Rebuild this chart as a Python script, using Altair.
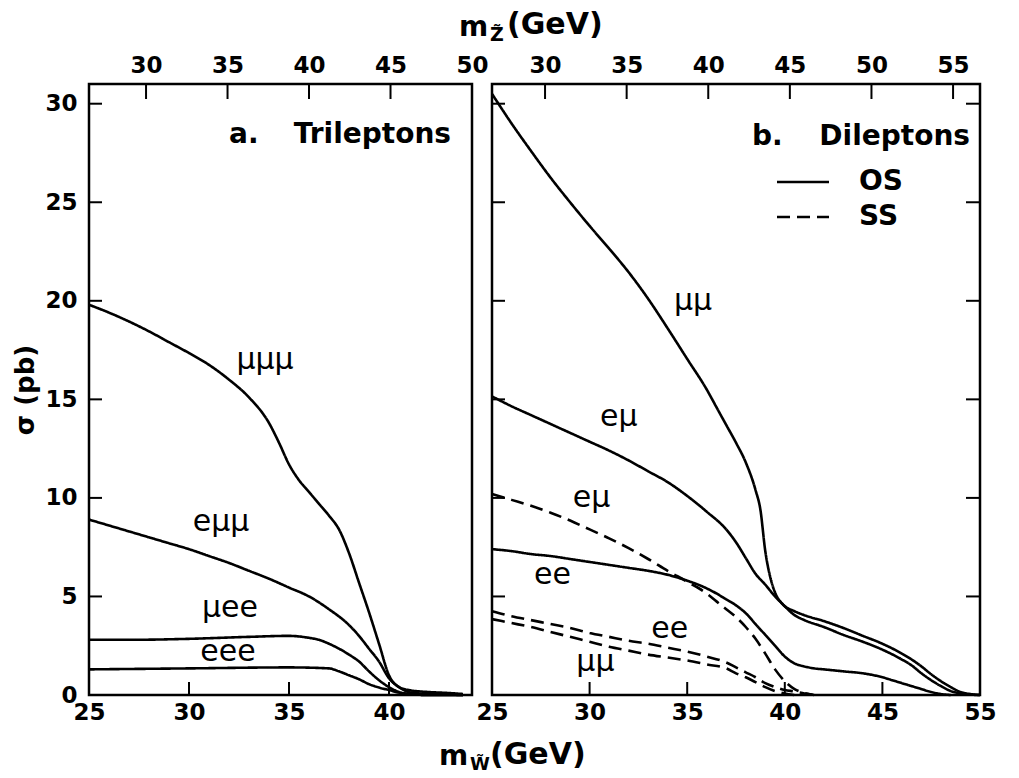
import altair as alt
import pandas as pd

# ---------------- data ----------------
# Panel a: trileptons, sigma (pb) vs m_W~ (GeV)
mmm_x = [25, 26, 27, 28, 29, 30, 31, 32, 33, 34, 34.5, 35, 35.5, 36, 36.5, 37, 37.5, 38, 38.5, 39, 39.5, 40, 40.5, 41, 42, 43, 43.7]
mmm_y = [19.8, 19.4, 18.95, 18.45, 17.9, 17.35, 16.75, 16.0, 15.1, 13.8, 12.8, 11.7, 10.9, 10.3, 9.7, 9.1, 8.4, 7.2, 5.7, 4.2, 2.6, 1.0, 0.4, 0.25, 0.15, 0.1, 0.05]

emm_x = [25, 26, 27, 28, 29, 30, 31, 32, 33, 34, 35, 36, 37, 38, 38.5, 39, 39.5, 40, 40.5, 41, 42, 43, 43.7]
emm_y = [8.9, 8.6, 8.3, 8.0, 7.7, 7.4, 7.05, 6.7, 6.3, 5.9, 5.45, 5.0, 4.35, 3.55, 3.0, 2.35, 1.7, 0.85, 0.4, 0.15, 0.05, 0.02, 0.0]

mee_x = [25, 27, 30, 33, 35, 36, 36.5, 37, 37.5, 38, 38.5, 39, 39.5, 40, 40.5, 41, 42, 43.7]
mee_y = [2.8, 2.8, 2.85, 2.95, 3.0, 2.9, 2.8, 2.6, 2.35, 2.05, 1.7, 1.2, 0.75, 0.4, 0.15, 0.05, 0.0, 0.0]

eee_x = [25, 30, 35, 37, 37.5, 38, 38.5, 39, 39.5, 40, 40.5, 41, 42, 43.7]
eee_y = [1.3, 1.35, 1.4, 1.35, 1.2, 1.0, 0.8, 0.55, 0.38, 0.25, 0.12, 0.05, 0.0, 0.0]

# Panel b: dileptons, opposite sign (OS, solid) and same sign (SS, dashed)
mm_os_x = [25, 26, 27, 28, 29, 30, 31, 32, 33, 34, 35, 36, 36.5, 37, 37.5, 38, 38.5, 38.75, 39, 39.25, 39.5, 39.9, 40.5, 41, 42, 43, 44, 45, 46, 46.5, 47, 47.5, 48, 48.5, 49, 49.5, 50]
mm_os_y = [30.5, 29.0, 27.6, 26.25, 25.0, 23.8, 22.65, 21.45, 20.1, 18.6, 17.05, 15.5, 14.6, 13.7, 12.8, 11.8, 10.4, 9.4, 7.3, 6.0, 5.2, 4.6, 4.25, 4.05, 3.75, 3.4, 3.0, 2.6, 2.1, 1.8, 1.45, 1.05, 0.7, 0.4, 0.15, 0.05, 0.0]

em_os_x = [25, 26, 27, 28, 29, 30, 31, 32, 33, 34, 35, 36, 37, 37.5, 38, 38.5, 39, 39.5, 39.9, 40.5, 41, 42, 43, 44, 45, 46, 46.5, 47, 47.5, 48, 48.5, 49, 49.5, 50]
em_os_y = [15.15, 14.65, 14.2, 13.75, 13.3, 12.85, 12.4, 11.9, 11.35, 10.8, 10.1, 9.3, 8.4, 7.75, 6.95, 6.15, 5.6, 5.0, 4.6, 4.05, 3.8, 3.45, 3.05, 2.7, 2.3, 1.8, 1.5, 1.1, 0.75, 0.45, 0.2, 0.08, 0.02, 0.0]

ee_os_x = [25, 26, 27, 28, 29, 30, 31, 32, 33, 34, 35, 35.8, 36.5, 37, 37.5, 38, 38.5, 39, 39.5, 40, 40.5, 41, 41.5, 42, 43, 44, 45, 45.5, 46, 46.5, 47, 47.5, 48, 48.5]
ee_os_y = [7.4, 7.3, 7.15, 7.05, 6.9, 6.75, 6.6, 6.45, 6.3, 6.1, 5.8, 5.5, 5.15, 4.85, 4.55, 4.15, 3.6, 3.05, 2.5, 1.95, 1.6, 1.45, 1.35, 1.3, 1.2, 1.1, 0.9, 0.75, 0.6, 0.45, 0.3, 0.15, 0.05, 0.0]

em_ss_x = [25, 26, 27, 28, 29, 30, 31, 32, 33, 34, 35, 36, 36.5, 37, 37.5, 38, 38.5, 39, 39.5, 40, 40.5, 41, 41.5]
em_ss_y = [10.2, 9.9, 9.6, 9.25, 8.85, 8.4, 7.95, 7.45, 6.9, 6.3, 5.75, 5.15, 4.75, 4.35, 3.95, 3.45, 2.85, 2.1, 1.3, 0.7, 0.3, 0.1, 0.0]

ee_ss_x = [25, 26, 27, 28, 29, 30, 31, 32, 33, 34, 35, 36, 37, 37.5, 38, 38.5, 39, 39.5, 40, 40.5, 41, 41.5]
ee_ss_y = [4.25, 4.0, 3.8, 3.6, 3.4, 3.15, 2.95, 2.75, 2.6, 2.4, 2.2, 1.95, 1.65, 1.4, 1.15, 0.9, 0.6, 0.4, 0.25, 0.18, 0.08, 0.0]

mm_ss_x = [25, 26, 27, 28, 29, 30, 31, 32, 33, 34, 35, 36, 37, 37.5, 38, 38.5, 39, 39.5, 40, 40.5]
mm_ss_y = [3.85, 3.65, 3.45, 3.2, 2.95, 2.7, 2.45, 2.25, 2.05, 1.9, 1.75, 1.55, 1.35, 1.1, 0.9, 0.65, 0.4, 0.2, 0.08, 0.0]

# curve labels (text, m_W, sigma)
tri_labels = ["μμμ", "eμμ", "μee", "eee"]
tri_label_x = [33.8, 31.6, 32.05, 31.95]
tri_label_y = [17.0, 8.8, 4.4, 2.2]

di_labels = ["μμ", "eμ", "eμ", "ee", "ee", "μμ"]
di_label_x = [35.3, 31.5, 30.1, 28.1, 34.1, 30.3]
di_label_y = [20.0, 14.1, 10.0, 6.1, 3.35, 1.65]

# axes
sigma_ticks = [0, 5, 10, 15, 20, 25, 30]
sigma_inner_ticks = [5, 10, 15, 20, 25, 30]
left_mw_ticks = [25, 30, 35, 40]
left_mw_inner = [30, 35, 40]
right_mw_ticks = [25, 30, 35, 40, 45, 50]
right_mw_inner = [30, 35, 40, 45]
right_mw_labels = ["25", "30", "35", "40", "45", "55"]   # as printed on the original
left_mz_ticks = [30, 35, 40, 45, 50]
right_mz_ticks = [30, 35, 40, 45, 50, 55]

# ---------------- layout / style ----------------
FONT = "DejaVu Sans"
W_L, W_R, H = 383, 488, 611
XL, XR = [25, 44.15], [25, 50]
ZL, ZR = [26.5, 50], [26.75, 56.65]
YD = [0, 31]
LW = 2.6
DASH = [13, 7]


def curves_df(curves):
    rows = []
    for name, style, xs, ys in curves:
        for x, y in zip(xs, ys):
            rows.append({"curve": name, "style": style, "mw": x, "sigma": y})
    return pd.DataFrame(rows)


tri_df = curves_df([
    ("mmm", "OS", mmm_x, mmm_y),
    ("emm", "OS", emm_x, emm_y),
    ("mee", "OS", mee_x, mee_y),
    ("eee", "OS", eee_x, eee_y),
])
di_df = curves_df([
    ("mm_os", "OS", mm_os_x, mm_os_y),
    ("em_os", "OS", em_os_x, em_os_y),
    ("ee_os", "OS", ee_os_x, ee_os_y),
    ("em_ss", "SS", em_ss_x, em_ss_y),
    ("ee_ss", "SS", ee_ss_x, ee_ss_y),
    ("mm_ss", "SS", mm_ss_x, mm_ss_y),
])

right_label_expr = " : ".join(
    [f"datum.value == {v} ? '{t}'" for v, t in zip(right_mw_ticks, right_mw_labels)]
) + " : datum.label"


def text_at(txt, px, py, size, align="left", weight="bold", baseline="middle"):
    return alt.Chart(pd.DataFrame({"t": [txt]})).mark_text(
        font=FONT, fontSize=size, fontWeight=weight, color="black",
        align=align, baseline=baseline
    ).encode(x=alt.value(px), y=alt.value(py), text="t:N")


def rule_px(x, x2, y, y2, dash=None):
    kw = {}
    if dash:
        kw["strokeDash"] = dash
    return alt.Chart(pd.DataFrame({"a": [0]})).mark_rule(
        color="black", strokeWidth=LW, **kw
    ).encode(x=alt.value(x), x2=alt.value(x2), y=alt.value(y), y2=alt.value(y2))


def panel(df, xdom, zdom, width, xticks, xinner, zticks, left_axis, right_ticks,
          labels, lx, ly, label_expr=None):
    xs = alt.Scale(domain=xdom, nice=False, zero=False)
    ys = alt.Scale(domain=YD, nice=False, zero=True)
    zs = alt.Scale(domain=zdom, nice=False, zero=False)

    xaxis_kw = dict(orient="bottom", values=xticks, title=None, labelPadding=6,
                    format="d", labelFlush=False, labelOverlap=False)
    if label_expr:
        xaxis_kw["labelExpr"] = label_expr
    if left_axis:
        yaxis = alt.Axis(values=sigma_ticks, title="σ (pb)", titleFontSize=26,
                         titleFont=FONT, titleFontWeight="bold", titlePadding=6,
                         labelPadding=12, format="d", labelFlush=False)
    else:
        yaxis = None

    def Y():
        return alt.Y("sigma:Q", scale=ys, axis=yaxis)

    lines = alt.Chart(df).mark_line(color="black", strokeWidth=LW,
                                    interpolate="monotone").encode(
        x=alt.X("mw:Q", scale=xs, axis=alt.Axis(**xaxis_kw)),
        y=Y(),
        detail="curve:N",
        strokeDash=alt.StrokeDash("style:N", legend=None,
                                  scale=alt.Scale(domain=["OS", "SS"],
                                                  range=[[1, 0], DASH])),
    )

    top = alt.Chart(pd.DataFrame({"mz": zticks})).mark_rule(
        color="black", strokeWidth=2).encode(
        x=alt.X("mz:Q", scale=zs,
                axis=alt.Axis(orient="top", values=zticks, title=None,
                              labelPadding=7, format="d", labelFlush=False,
                              labelOverlap=False)),
        y=alt.value(0), y2=alt.value(15),
    )
    bottom = alt.Chart(pd.DataFrame({"mw": xinner})).mark_rule(
        color="black", strokeWidth=2).encode(
        x=alt.X("mw:Q", scale=xs, axis=None),
        y=alt.value(H - 13), y2=alt.value(H),
    )
    lt = alt.Chart(pd.DataFrame({"sigma": sigma_inner_ticks})).mark_rule(
        color="black", strokeWidth=2).encode(
        y=Y(),
        x=alt.value(0), x2=alt.value(13),
    )
    layers = [lines, top, bottom, lt]
    if right_ticks:
        rt = alt.Chart(pd.DataFrame({"sigma": sigma_inner_ticks})).mark_rule(
            color="black", strokeWidth=2).encode(
            y=Y(),
            x=alt.value(width - 14), x2=alt.value(width),
        )
        layers.append(rt)

    lab = alt.Chart(pd.DataFrame({"t": labels, "mw": lx, "sigma": ly})).mark_text(
        font=FONT, fontSize=30, color="black", align="center", baseline="middle"
    ).encode(
        x=alt.X("mw:Q", scale=xs, axis=None),
        y=Y(),
        text="t:N",
    )
    layers.append(lab)
    return layers


left_layers = panel(tri_df, XL, ZL, W_L, left_mw_ticks, left_mw_inner, left_mz_ticks,
                    True, False, tri_labels, tri_label_x, tri_label_y)
left_layers += [
    text_at("a.", 140, 51, 28),
    text_at("Trileptons", 362, 51, 28, align="right"),
    # shared axis titles (drawn in the left panel's frame, spanning both panels)
    text_at("m", 370, -56, 28),
    text_at("Z\u0303", 401, -49, 19),
    text_at("(GeV)", 418, -59, 30),
    text_at("m", 350, 673, 28),
    text_at("W\u0303", 381, 681, 18),
    text_at("(GeV)", 401, 671, 30),
]

right_layers = panel(di_df, XR, ZR, W_R, right_mw_ticks, right_mw_inner, right_mz_ticks,
                     False, True, di_labels, di_label_x, di_label_y,
                     label_expr=right_label_expr)
right_layers += [
    text_at("b.", 260, 53, 28),
    text_at("Dileptons", 478, 53, 28, align="right"),
    rule_px(285, 337, 98, 98),
    rule_px(285, 337, 133, 133, dash=DASH),
    text_at("OS", 367, 98, 28),
    text_at("SS", 367, 133, 28),
]

left = alt.layer(*left_layers).resolve_scale(x="independent").properties(
    width=W_L, height=H)
right = alt.layer(*right_layers).resolve_scale(x="independent").properties(
    width=W_R, height=H)

chart = alt.hconcat(left, right, spacing=20, bounds="flush").properties(
    padding={"left": 11, "top": 8, "right": 5, "bottom": 5},
    background="white",
).configure_view(
    stroke="black", strokeWidth=2.5
).configure_axis(
    labelFont=FONT, labelFontWeight="bold", labelFontSize=23, labelColor="black",
    ticks=False, domain=False, grid=False, titleColor="black",
)

chart.save("out.html", embed_options={"renderer": "svg", "actions": False})
